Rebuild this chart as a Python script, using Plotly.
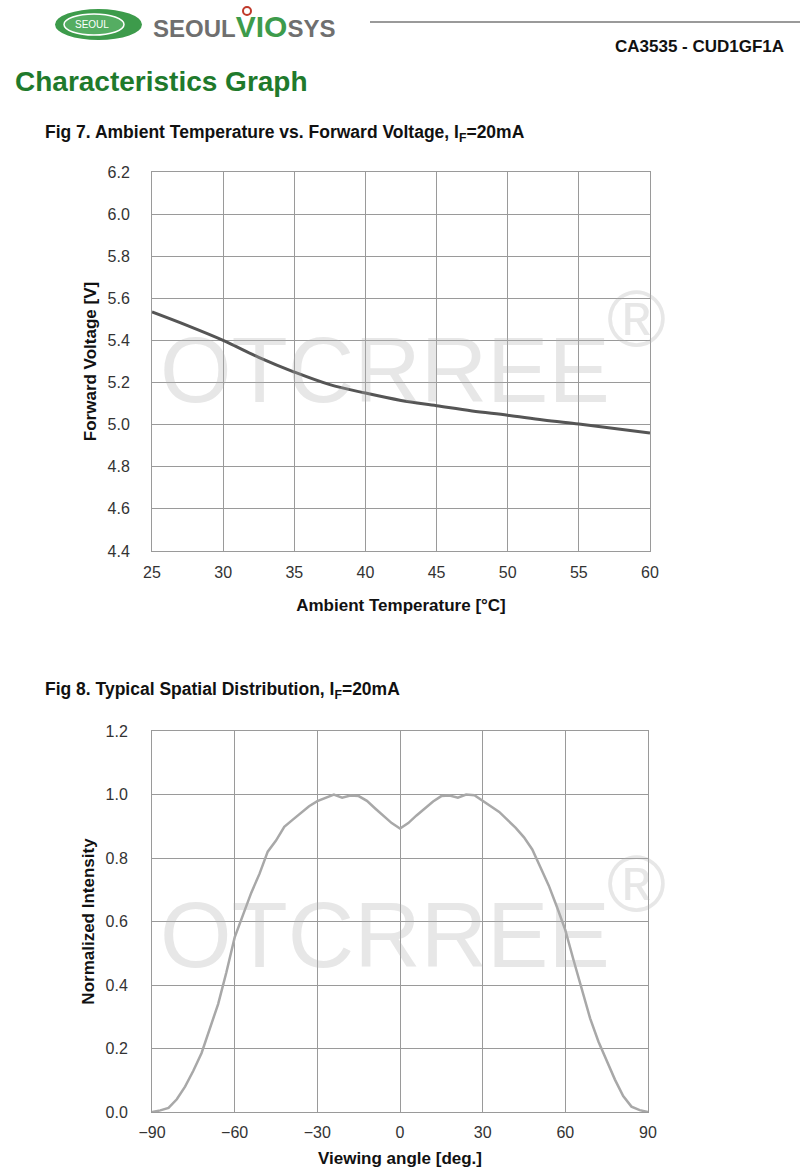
import plotly.graph_objects as go

# ---- Data ----
temp_c = [25, 27.5, 30, 32.5, 35, 37.5, 40, 42.5, 45, 47.5, 50, 52.5, 55, 57.5, 60]
forward_v = [5.535, 5.47, 5.40, 5.32, 5.25, 5.19, 5.15, 5.115, 5.09, 5.065, 5.045, 5.022, 5.003, 4.982, 4.96]

angle_deg = [-90, -87, -84, -81, -78, -75, -72, -69, -66, -63, -60, -57, -54, -51, -48, -45, -42, -39,
             -36, -33, -30, -27, -24, -21, -18, -15, -12, -9, -6, -3, 0, 3, 6, 9, 12, 15, 18, 21,
             24, 27, 30, 33, 36, 39, 42, 45, 48, 51, 54, 57, 60, 63, 66, 69, 72, 75, 78, 81, 84, 87, 90]
intensity = [0.0, 0.005, 0.013, 0.04, 0.08, 0.13, 0.186, 0.26, 0.34, 0.44, 0.55, 0.62, 0.69, 0.75,
             0.82, 0.855, 0.898, 0.92, 0.943, 0.963, 0.979, 0.99, 1.0, 0.99, 0.997, 0.995, 0.98,
             0.956, 0.934, 0.91, 0.893, 0.91, 0.934, 0.956, 0.978, 0.995, 0.997, 0.99, 1.0, 0.998,
             0.98, 0.963, 0.945, 0.92, 0.895, 0.865, 0.827, 0.77, 0.713, 0.645, 0.573, 0.478, 0.385,
             0.295, 0.222, 0.16, 0.102, 0.05, 0.017, 0.006, 0.0]

fig7_xticks = [25, 30, 35, 40, 45, 50, 55, 60]
fig7_yticks = [4.4, 4.6, 4.8, 5.0, 5.2, 5.4, 5.6, 5.8, 6.0, 6.2]
fig8_xticks = [-90, -60, -30, 0, 30, 60, 90]
fig8_xlabels = ["\u221290", "\u221260", "\u221230", "0", "30", "60", "90"]
fig8_yticks = [0.0, 0.2, 0.4, 0.6, 0.8, 1.0, 1.2]

W, H = 800, 1174
FONT = "Liberation Sans, Arial, sans-serif"
GRID = "#9a9a9a"
WM = "rgba(175,175,175,0.30)"


def px(x):
    return x / W


def py(y):
    return 1 - y / H


fig = go.Figure()
fig.add_trace(go.Scatter(x=temp_c, y=forward_v, mode="lines", line=dict(color="#555555", width=3, shape="spline"),
                         xaxis="x", yaxis="y", showlegend=False))
fig.add_trace(go.Scatter(x=angle_deg, y=intensity, mode="lines", line=dict(color="#a8a8a8", width=2.5),
                         xaxis="x2", yaxis="y2", showlegend=False))

axis_common = dict(showgrid=True, gridcolor=GRID, gridwidth=1, showline=True, linecolor=GRID, linewidth=1,
                   mirror=True, zeroline=False, ticks="", automargin=False,
                   tickfont=dict(family=FONT, size=16, color="#333333"))
title_font = dict(family=FONT, size=17, color="#111")

fig.update_layout(
    width=W, height=H, margin=dict(l=0, r=0, t=0, b=0, pad=0, autoexpand=False),
    paper_bgcolor="white", plot_bgcolor="white",
    xaxis=dict(axis_common, domain=[px(152), px(650)], range=[25, 60], tickvals=fig7_xticks, anchor="y",
               ticklabelstandoff=7,
               title=dict(text="<b>Ambient Temperature [°C]</b>", font=title_font, standoff=18)),
    yaxis=dict(axis_common, domain=[py(551), py(172)], range=[4.4, 6.2], tickvals=fig7_yticks, tickformat=".1f",
               anchor="x", ticklabelstandoff=18,
               title=dict(text="<b>Forward Voltage [V]</b>", font=title_font, standoff=6)),
    xaxis2=dict(axis_common, domain=[px(152), px(648)], range=[-90, 90], tickvals=fig8_xticks,
                ticktext=fig8_xlabels, anchor="y2", ticklabelstandoff=6,
                title=dict(text="<b>Viewing angle [deg.]</b>", font=title_font, standoff=11)),
    yaxis2=dict(axis_common, domain=[py(1112), py(731)], range=[0, 1.2], tickvals=fig8_yticks, tickformat=".1f",
                anchor="x2", ticklabelstandoff=20,
                title=dict(text="<b>Normalized Intensity</b>", font=title_font, standoff=6)),
)

shapes = [
    dict(type="circle", xref="paper", yref="paper", x0=px(55), x1=px(142), y0=py(40), y1=py(9),
         fillcolor="#3d9b4b", line=dict(color="#3d9b4b", width=0)),
    dict(type="circle", xref="paper", yref="paper", x0=px(64), x1=px(124), y0=py(35), y1=py(14),
         fillcolor="#55ad62", line=dict(color="white", width=1.5)),
    dict(type="circle", xref="paper", yref="paper", x0=px(243), x1=px(251), y0=py(15), y1=py(7),
         fillcolor="rgba(0,0,0,0)", line=dict(color="#c0392b", width=2)),
    dict(type="line", xref="paper", yref="paper", x0=px(370), x1=px(800), y0=py(22), y1=py(22),
         line=dict(color="#9a9a9a", width=2)),
]

annotations = [
    dict(text="SEOUL", x=px(92), y=py(25), font=dict(family=FONT, size=10, color="white")),
    dict(text="<b><span style='color:#6f6f6f'>SEOUL</span><span style='color:#3d9b4b;font-size:30px'>VIO</span><span style='color:#6f6f6f'>SYS</span></b>",
         x=px(151), y=py(26), xanchor="left", font=dict(family=FONT, size=24)),
    dict(text="<b>CA3535 - CUD1GF1A</b>", x=px(786), y=py(46), xanchor="right", font=dict(family=FONT, size=17, color="#111")),
    dict(text="<b>Characteristics Graph</b>", x=px(13), y=py(81), xanchor="left", font=dict(family=FONT, size=28, color="#1f7a2c")),
    dict(text="<b>Fig 7. Ambient Temperature vs. Forward Voltage, I<sub>F</sub>=20mA</b>", x=px(43), y=py(134), xanchor="left",
         font=dict(family=FONT, size=17.5, color="#111")),
    dict(text="<b>Fig 8. Typical Spatial Distribution, I<sub>F</sub>=20mA</b>", x=px(43), y=py(690), xanchor="left",
         font=dict(family=FONT, size=17.5, color="#111")),
    # watermarks
    dict(text="OTCRREE", x=px(158), y=py(370), xanchor="left", font=dict(family=FONT, size=92, color=WM)),
    dict(text="®", x=px(636), y=py(318), font=dict(family=FONT, size=80, color=WM)),
    dict(text="OTCRREE", x=px(158), y=py(935), xanchor="left", font=dict(family=FONT, size=92, color=WM)),
    dict(text="®", x=px(636), y=py(883), font=dict(family=FONT, size=80, color=WM)),
]
for a in annotations:
    a.update(xref="paper", yref="paper", showarrow=False)
    a.setdefault("xanchor", "center")
    a.setdefault("yanchor", "middle")

fig.update_layout(shapes=shapes, annotations=annotations)
fig.write_html("out.html", post_script="document.body.style.margin='0';document.body.style.overflow='hidden';")
